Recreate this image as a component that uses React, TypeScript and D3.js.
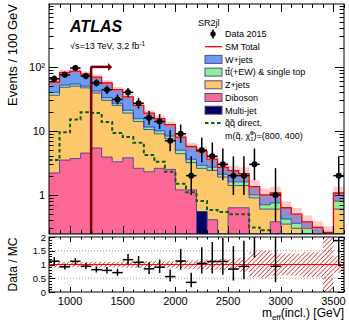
import React, { useEffect, useRef } from 'react';
import * as d3 from 'd3';

// bins of 100 GeV, low edges
const binLow = [800, 900, 1000, 1100, 1200, 1300, 1400, 1500, 1600, 1700, 1800, 1900, 2000, 2100,
  2200, 2300, 2400, 2500, 2600, 2700, 2800, 2900, 3000, 3100, 3200, 3300, 3400, 3500];

// backgrounds per bin (events / 100 GeV)
const multijet = [0, 0, 0, 0, 0, 0, 0, 0, 0, 0, 0, 0, 0, 0, 0.55, 0, 0, 0, 0, 0, 0, 0, 0, 0, 0, 0, 0, 0];
const diboson = [2.2, 3.5, 3.7, 4.5, 5.4, 3.9, 3.3, 3.8, 2.6, 2.3, 2.6, 2.5, 1.2, 1.2, 0, 0.41, 0, 0.63, 0.63, 0, 0, 0.38, 0, 0, 0, 0, 0, 0];
const zjets = [33.8, 44.5, 46.3, 42.5, 33.6, 26.1, 21.7, 15.2, 11.4, 8.2, 6.4, 5, 3.2, 2, 2.05, 2, 1.9, 0.77, 0.77, 0.9, 0.6, 0.22, 0.35, 0.3, 0.25, 0.2, 0, 0.6];
const ttbar = [4, 4, 4, 3, 3, 3, 2, 2, 1.5, 1, 1, 0.8, 0.6, 0.4, 0.3, 0.3, 0.2, 0.2, 0.2, 0.1, 0.1, 0.15, 0.07, 0.06, 0.05, 0.04, 0, 0.2];
const wjets = [18, 30, 32, 27, 27, 23, 17, 13, 9.5, 7.5, 5.5, 4.2, 3, 2.1, 1.9, 0.9, 0.6, 0.8, 0.55, 0.35, 0.3, 0.32, 0.21, 0.14, 0.08, 0.07, 0.26, 0.27];
const relUnc = [0.12, 0.1, 0.1, 0.1, 0.1, 0.1, 0.1, 0.12, 0.12, 0.12, 0.12, 0.12, 0.15, 0.15, 0.18, 0.18, 0.2, 0.2, 0.25, 0.45, 0.5, 0.4, 0.4, 0.4, 0.45, 0.45, 1, 0.3];

// data 2015
const dataCounts = [65, 75, 96, 72, 56, 44, 31, 40, 27, 16, 14, 7, 9, 2, 5, 4, 3, 2, 2, 3, 0, 1, 0, 0, 0, 0, 0, 2];

// signal: squark direct m = (800, 400)
const signal = [3.5, 9.5, 15, 19.5, 19, 13.8, 9.3, 8, 6.5, 4.2, 3.3, 2.3, 1.5, 1.1, 0.8, 0.58, 0.54, 0.5, 0.5, 0.31, 0.28, 0.24, 0.22, 0.2, 0.2, 0.2, 0.2, 0.2];

const xTicks = [1000, 1500, 2000, 2500, 3000, 3500];
const yTicks = [1, 10, 100];
const yTickLabels = ['1', '10', '10²'];
const ratioTicks = [0, 0.5, 1, 1.5, 2];
const ratioTickLabels = ['0', '0.5', '1', '1.5', '2'];

const legendItems = ['W+jets', 'tt(+EW) & single top', 'Z+jets', 'Diboson', 'Multi-jet'];
const legendColors = ['#6b9bf2', '#8ef08e', '#fcc86a', '#fd6796', '#00005e'];

const W = 349, H = 323;
const L = 49, R = 344, T = 4, B = 234;
const RT = 237, RB = 292;
const FONT = '"Liberation Sans", Arial, Helvetica, sans-serif';

export default function App() {
  const ref = useRef<SVGSVGElement>(null);

  useEffect(() => {
    const svg = d3.select(ref.current);
    svg.selectAll('*').remove();

    const x = d3.scaleLinear().domain([800, 3600]).range([L, R]);
    const y = d3.scaleLog().domain([0.245, 960]).range([B, T]).clamp(true);
    const yr = d3.scaleLinear().domain([0, 2]).range([RB, RT]);

    const defs = svg.append('defs');
    defs.append('clipPath').attr('id', 'clipMain').append('rect')
      .attr('x', L).attr('y', T).attr('width', R - L).attr('height', B - T);
    defs.append('clipPath').attr('id', 'clipRatio').append('rect')
      .attr('x', L).attr('y', RT).attr('width', R - L).attr('height', RB - RT);
    const pat = defs.append('pattern').attr('id', 'hatch')
      .attr('patternUnits', 'userSpaceOnUse').attr('width', 3.2).attr('height', 3.2)
      .attr('patternTransform', 'rotate(45)');
    pat.append('line').attr('x1', 0).attr('y1', 0).attr('x2', 0).attr('y2', 3.2)
      .attr('stroke', '#d01010').attr('stroke-width', 1.3);

    // stacked table
    const keys = ['multijet', 'diboson', 'zjets', 'ttbar', 'wjets'];
    const rows = binLow.map((lo, i) => ({
      lo, multijet: multijet[i], diboson: diboson[i], zjets: zjets[i], ttbar: ttbar[i], wjets: wjets[i],
    }));
    rows.push({ ...rows[rows.length - 1], lo: 3600 });
    const stacked = d3.stack<any>().keys(keys)(rows);
    const fills: Record<string, string> = {
      multijet: '#00005e', diboson: '#fd6796', zjets: '#fcc86a', ttbar: '#8ef08e', wjets: '#6b9bf2',
    };

    const gMain = svg.append('g').attr('clip-path', 'url(#clipMain)');
    const lowVal = 0.01;
    const area = d3.area<any>()
      .curve(d3.curveStepAfter)
      .x(d => x(d.data.lo))
      .y0(d => y(Math.max(d[0], lowVal)))
      .y1(d => y(Math.max(d[1], lowVal)));
    const topLine = d3.line<any>()
      .curve(d3.curveStepAfter)
      .x(d => x(d.data.lo))
      .y(d => y(Math.max(d[1], lowVal)));

    stacked.forEach(layer => {
      gMain.append('path').attr('d', area(layer) as string).attr('fill', fills[layer.key]);
    });
    stacked.forEach(layer => {
      if (layer.key === 'wjets') return;
      gMain.append('path').attr('d', topLine(layer) as string)
        .attr('fill', 'none').attr('stroke', '#2c2ca8').attr('stroke-width', 0.8);
    });

    // SM total
    const total = binLow.map((lo, i) => multijet[i] + diboson[i] + zjets[i] + ttbar[i] + wjets[i]);
    const totRows = binLow.map((lo, i) => ({ lo, v: total[i], u: relUnc[i] }));
    totRows.push({ ...totRows[totRows.length - 1], lo: 3600 });
    const band = d3.area<any>().curve(d3.curveStepAfter)
      .x(d => x(d.lo))
      .y0(d => y(Math.max(d.v * (1 - Math.min(d.u, 0.25)), lowVal)))
      .y1(d => y(d.v * (1 + Math.min(d.u, 0.25))));
    gMain.append('path').attr('d', band(totRows) as string)
      .attr('fill', '#ff6b6b').attr('opacity', 0.35);
    gMain.append('path')
      .attr('d', d3.line<any>().curve(d3.curveStepAfter).x(d => x(d.lo)).y(d => y(d.v))(totRows) as string)
      .attr('fill', 'none').attr('stroke', '#ff0000').attr('stroke-width', 1.3);

    // signal
    const sigRows = binLow.map((lo, i) => ({ lo, v: signal[i] }));
    sigRows.push({ lo: 3600, v: signal[signal.length - 1] });
    gMain.append('path')
      .attr('d', d3.line<any>().curve(d3.curveStepAfter).x(d => x(d.lo)).y(d => y(d.v))(sigRows) as string)
      .attr('fill', 'none').attr('stroke', '#0c5a14').attr('stroke-width', 2).attr('stroke-dasharray', '3.5,2.5');

    // cut arrow
    const arrowColor = '#730000';
    gMain.append('line').attr('x1', x(1200)).attr('x2', x(1200)).attr('y1', B).attr('y2', y(100) - 0.5)
      .attr('stroke', arrowColor).attr('stroke-width', 2.5);
    gMain.append('line').attr('x1', x(1200)).attr('x2', x(1360)).attr('y1', y(100)).attr('y2', y(100))
      .attr('stroke', arrowColor).attr('stroke-width', 2.5);
    gMain.append('path')
      .attr('d', `M${x(1360)},${y(100) - 4}L${x(1400)},${y(100)}L${x(1360)},${y(100) + 4}Z`)
      .attr('fill', arrowColor);

    // data points with errors
    const errUp = (n: number) => n + 0.5 + Math.sqrt(n + 0.25);
    const errDn = (n: number) => Math.max(n + 0.5 - Math.sqrt(n + 0.25), 0.001);
    binLow.forEach((lo, i) => {
      const n = dataCounts[i];
      if (n <= 0) return;
      const cx = x(lo + 50);
      gMain.append('line').attr('x1', cx).attr('x2', cx).attr('y1', y(errDn(n))).attr('y2', y(errUp(n)))
        .attr('stroke', '#000').attr('stroke-width', 1.5);
      gMain.append('line').attr('x1', x(lo)).attr('x2', x(lo + 100)).attr('y1', y(n)).attr('y2', y(n))
        .attr('stroke', '#000').attr('stroke-width', 1.5);
      gMain.append('circle').attr('cx', cx).attr('cy', y(n)).attr('r', 3).attr('fill', '#000');
    });

    // ratio panel
    const gRatio = svg.append('g').attr('clip-path', 'url(#clipRatio)');
    [0.5, 1.5].forEach(v => {
      gRatio.append('line').attr('x1', L).attr('x2', R).attr('y1', yr(v)).attr('y2', yr(v))
        .attr('stroke', '#999').attr('stroke-width', 1).attr('stroke-dasharray', '1,2');
    });
    const rBand = d3.area<any>().curve(d3.curveStepAfter)
      .x(d => x(d.lo)).y0(d => yr(1 - d.u)).y1(d => yr(1 + d.u));
    gRatio.append('path').attr('d', rBand(totRows) as string).attr('fill', 'url(#hatch)');
    gRatio.append('line').attr('x1', L).attr('x2', R).attr('y1', yr(1)).attr('y2', yr(1))
      .attr('stroke', '#ff0000').attr('stroke-width', 1);
    binLow.forEach((lo, i) => {
      const n = dataCounts[i];
      if (n <= 0 || total[i] <= 0) return;
      const r = n / total[i];
      const cx = x(lo + 50);
      gRatio.append('line').attr('x1', cx).attr('x2', cx)
        .attr('y1', yr(errDn(n) / total[i])).attr('y2', yr(errUp(n) / total[i]))
        .attr('stroke', '#000').attr('stroke-width', 1.5);
      gRatio.append('line').attr('x1', x(lo)).attr('x2', x(lo + 100)).attr('y1', yr(r)).attr('y2', yr(r))
        .attr('stroke', '#000').attr('stroke-width', 1.5);
    });

    // frames and ticks
    const axisG = svg.append('g').attr('stroke', '#000').attr('stroke-width', 1);
    [[T, B], [RT, RB]].forEach(([t, b], k) => {
      axisG.append('rect').attr('x', L).attr('y', t).attr('width', R - L).attr('height', b - t).attr('fill', 'none');
      const majLen = k === 0 ? 8 : 5;
      const minLen = k === 0 ? 4 : 2.5;
      binLow.concat([3600]).forEach(v => {
        const len = v % 500 === 0 ? majLen : minLen;
        const xx = Math.round(x(v)) + 0.5;
        axisG.append('line').attr('x1', xx).attr('x2', xx).attr('y1', b).attr('y2', b - len);
        axisG.append('line').attr('x1', xx).attr('x2', xx).attr('y1', t).attr('y2', t + len);
      });
    });
    // log y ticks
    const logTicks = y.ticks(10);
    logTicks.forEach(v => {
      const dec = Math.abs(Math.log10(v) - Math.round(Math.log10(v))) < 1e-6;
      const len = dec ? 9 : 4.5;
      const yy = Math.round(y(v)) + 0.5;
      if (yy < T || yy > B) return;
      axisG.append('line').attr('x1', L).attr('x2', L + len).attr('y1', yy).attr('y2', yy);
      axisG.append('line').attr('x1', R).attr('x2', R - len).attr('y1', yy).attr('y2', yy);
    });
    // ratio y ticks
    d3.range(0, 21).forEach(k => {
      const v = k / 10;
      const len = k % 5 === 0 ? 6 : 3;
      const yy = Math.round(yr(v)) + 0.5;
      axisG.append('line').attr('x1', L).attr('x2', L + len).attr('y1', yy).attr('y2', yy);
      axisG.append('line').attr('x1', R).attr('x2', R - len).attr('y1', yy).attr('y2', yy);
    });

    const txt = svg.append('g').attr('font-family', FONT).attr('fill', '#000');
    yTicks.forEach((v, i) => {
      txt.append('text').attr('x', L - 4).attr('y', y(v) + 4).attr('text-anchor', 'end')
        .attr('font-size', 11).text(yTickLabels[i]);
    });
    ratioTicks.forEach((v, i) => {
      txt.append('text').attr('x', L - 3).attr('y', yr(v) + 3.5).attr('text-anchor', 'end')
        .attr('font-size', 9.5).text(ratioTickLabels[i]);
    });
    xTicks.forEach(v => {
      txt.append('text').attr('x', x(v)).attr('y', 305).attr('text-anchor', 'middle')
        .attr('font-size', 11).text(String(v));
    });
    txt.append('text').attr('transform', `translate(17,${T}) rotate(-90)`).attr('text-anchor', 'end')
      .attr('font-size', 13).text('Events / 100 GeV');
    txt.append('text').attr('transform', `translate(17,${(RT + RB) / 2}) rotate(-90)`).attr('text-anchor', 'middle')
      .attr('font-size', 12).text('Data / MC');
    const xl = txt.append('text').attr('x', R).attr('y', 317).attr('text-anchor', 'end').attr('font-size', 12);
    xl.append('tspan').text('m');
    xl.append('tspan').attr('font-size', 8).attr('dy', 3).text('eff');
    xl.append('tspan').attr('dy', -3).text('(incl.) [GeV]');

    // ATLAS label
    txt.append('text').attr('x', 70).attr('y', 32).attr('font-size', 16).attr('font-weight', 'bold')
      .attr('font-style', 'italic').text('ATLAS');
    const en = txt.append('text').attr('x', 70).attr('y', 49).attr('font-size', 9);
    en.append('tspan').text('√s=13 TeV, 3.2 fb');
    en.append('tspan').attr('font-size', 6.5).attr('dy', -3.5).text('-1');

    // legend
    const lx = 205, tx = 225;
    txt.append('text').attr('x', 198).attr('y', 26).attr('font-size', 9).text('SR2jl');
    const rowY = (k: number) => 34 + k * 12.7;
    // data
    svg.append('line').attr('x1', 213).attr('x2', 213).attr('y1', rowY(0) - 4.5).attr('y2', rowY(0) + 4.5)
      .attr('stroke', '#000').attr('stroke-width', 1.5);
    svg.append('circle').attr('cx', 213).attr('cy', rowY(0)).attr('r', 2.7).attr('fill', '#000');
    txt.append('text').attr('x', tx).attr('y', rowY(0) + 3.3).attr('font-size', 9).text('Data 2015');
    svg.append('line').attr('x1', lx).attr('x2', lx + 17).attr('y1', rowY(1)).attr('y2', rowY(1))
      .attr('stroke', '#ff0000').attr('stroke-width', 1.3);
    txt.append('text').attr('x', tx).attr('y', rowY(1) + 3.3).attr('font-size', 9).text('SM Total');
    legendItems.forEach((name, i) => {
      const yy = rowY(i + 2);
      svg.append('rect').attr('x', lx).attr('y', yy - 4).attr('width', 17).attr('height', 8)
        .attr('fill', legendColors[i]).attr('stroke', '#5a4a8a').attr('stroke-width', 1);
      const t = txt.append('text').attr('x', tx).attr('y', yy + 3.3).attr('font-size', 9);
      if (i === 1) {
        t.append('tspan').text('t');
        t.append('tspan').attr('text-decoration', 'overline').text('t');
        t.append('tspan').text(name.slice(2));
      } else {
        t.text(name);
      }
    });
    const sy = rowY(7);
    svg.append('line').attr('x1', lx).attr('x2', lx + 17).attr('y1', sy).attr('y2', sy)
      .attr('stroke', '#0c5a14').attr('stroke-width', 2).attr('stroke-dasharray', '3.5,2.5');
    txt.append('text').attr('x', tx).attr('y', sy + 3.3).attr('font-size', 9).text('q\u0303q\u0303 direct,');
    const m = txt.append('text').attr('x', tx).attr('y', sy + 16).attr('font-size', 9);
    m.append('tspan').text('m(q\u0303, \u03c7\u0303');
    m.append('tspan').attr('font-size', 6).attr('dy', -3.5).text('0');
    m.append('tspan').attr('font-size', 6).attr('dx', -3.4).attr('dy', 6).text('1');
    m.append('tspan').attr('dy', -2.5).text(')=(800, 400)');
  }, []);

  return (
    <svg ref={ref} width={W} height={H} style={{ position: 'absolute', left: 0, top: 0, background: '#fff' }} />
  );
}
